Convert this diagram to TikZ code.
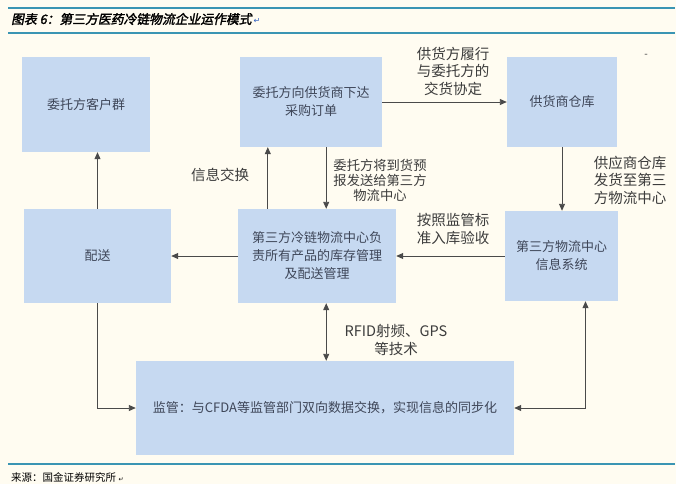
\documentclass[tikz,border=0pt]{standalone}
\usepackage{fontspec}
\setmainfont{Noto Sans CJK SC}
\newfontfamily\titlefont[FakeBold=2,FakeSlant=0.2]{Noto Sans CJK SC}
\newfontfamily\symfont{DejaVu Sans}
\usetikzlibrary{arrows.meta}
\definecolor{bgcream}{HTML}{FFFCF1}
\definecolor{boxblue}{HTML}{C6D9F1}
\definecolor{boxtext}{HTML}{3E4658}
\definecolor{labeltext}{HTML}{3C3C3C}
\definecolor{rulecol}{HTML}{3A95B3}
\definecolor{arrowcol}{HTML}{4A4A4A}
\definecolor{markblue}{HTML}{3060C0}

\begin{document}
\begin{tikzpicture}[x=1pt,y=-1pt,
  >={Triangle[length=7pt,width=6pt]},
  stage/.style={fill=boxblue,text=boxtext,align=center,inner sep=2pt,
    font=\fontsize{13}{18}\selectfont},
  note/.style={text=labeltext,align=center,inner sep=0pt,
    font=\fontsize{14.5}{17.5}\selectfont},
  flow/.style={draw=arrowcol,line width=0.9pt}]
  % Canvas and rules
  \useasboundingbox (0,0) rectangle (676,484);
  \fill[bgcream] (0,0) rectangle (676,484);
  \draw[rulecol,line width=1.2pt] (8,8) -- (675,8);
  \draw[rulecol,line width=1.2pt] (8,33) -- (675,33);
  \draw[rulecol,line width=1.2pt] (8,464) -- (675,464);
  \node[anchor=west,inner sep=0pt,font=\titlefont\fontsize{12.8}{13}\selectfont] (title) at (11,19)
    {图表 6：第三方医药冷链物流企业运作模式\hspace{2pt}{\symfont\color{markblue}\fontsize{8}{8}\selectfont ↵}};
  \node[anchor=west,inner sep=0pt,font=\fontsize{10.5}{11}\selectfont] (source) at (11,477)
    {来源：国金证券研究所 {\symfont\fontsize{6}{6}\selectfont ↵}};

  % Boxes
  \node[stage,minimum width=128pt,minimum height=95pt] (clients) at (86,104.5) {委托方客户群};
  \node[stage,minimum width=142pt,minimum height=90pt] (order) at (311,102) {委托方向供货商下达\\采购订单};
  \node[stage,minimum width=110pt,minimum height=90pt] (warehouse) at (562,102) {供货商仓库};
  \node[stage,minimum width=147pt,minimum height=94pt] (delivery) at (97.5,256) {配送};
  \node[stage,minimum width=158pt,minimum height=94pt] (coldchain) at (317,256)
    {第三方冷链物流中心负\\责所有产品的库存管理\\及配送管理};
  \node[stage,minimum width=113pt,minimum height=90pt] (infosys) at (561.5,256) {第三方物流中心\\信息系统};
  \node[stage,minimum width=378pt,minimum height=94pt] (supervise) at (325,408)
    {监管：与CFDA等监管部门双向数据交换，实现信息的同步化};

  % Labels
  \node[note] (deal) at (453,71) {供货方履行\\与委托方的\\交货协定};
  \node[note] (infoswap) at (220,175) {信息交换};
  \node[note,font=\fontsize{13.3}{15}\selectfont] (notice) at (380,180) {委托方将到货预\\报发送给第三方\\物流中心};
  \node[note] (ship) at (630,180) {供应商仓库\\发货至第三\\方物流中心};
  \node[note] (inspect) at (453,229) {按照监管标\\准入库验收};
  \node[note] (tech) at (396,340) {RFID射频、GPS\\等技术};
  \node[note,font=\fontsize{10}{10}\selectfont] (dash) at (646,56) {-};

  % Connectors
  \draw[flow,->] (delivery.north) -- (delivery.north |- clients.south);
  \draw[flow,->] (order.east) -- (warehouse.west);
  \draw[flow,->] (warehouse.south) -- (warehouse.south |- infosys.north);
  \draw[flow,->] (infosys.west) -- (coldchain.east);
  \draw[flow,->] (coldchain.west) -- (delivery.east);
  \draw[flow,->] ([xshift=30pt]coldchain.north west) -- ([xshift=30pt]coldchain.north west |- order.south);
  \draw[flow,->] ([xshift=-70pt]coldchain.north east |- order.south) -- ([xshift=-70pt]coldchain.north east);
  \draw[flow,<->] ([xshift=-70pt]coldchain.south east) -- ([xshift=-70pt]coldchain.south east |- supervise.north);
  \draw[flow,->] (delivery.south) |- (supervise.west);
  \draw[flow,<->] ([xshift=24pt]infosys.south) |- (supervise.east);
\end{tikzpicture}
\end{document}
